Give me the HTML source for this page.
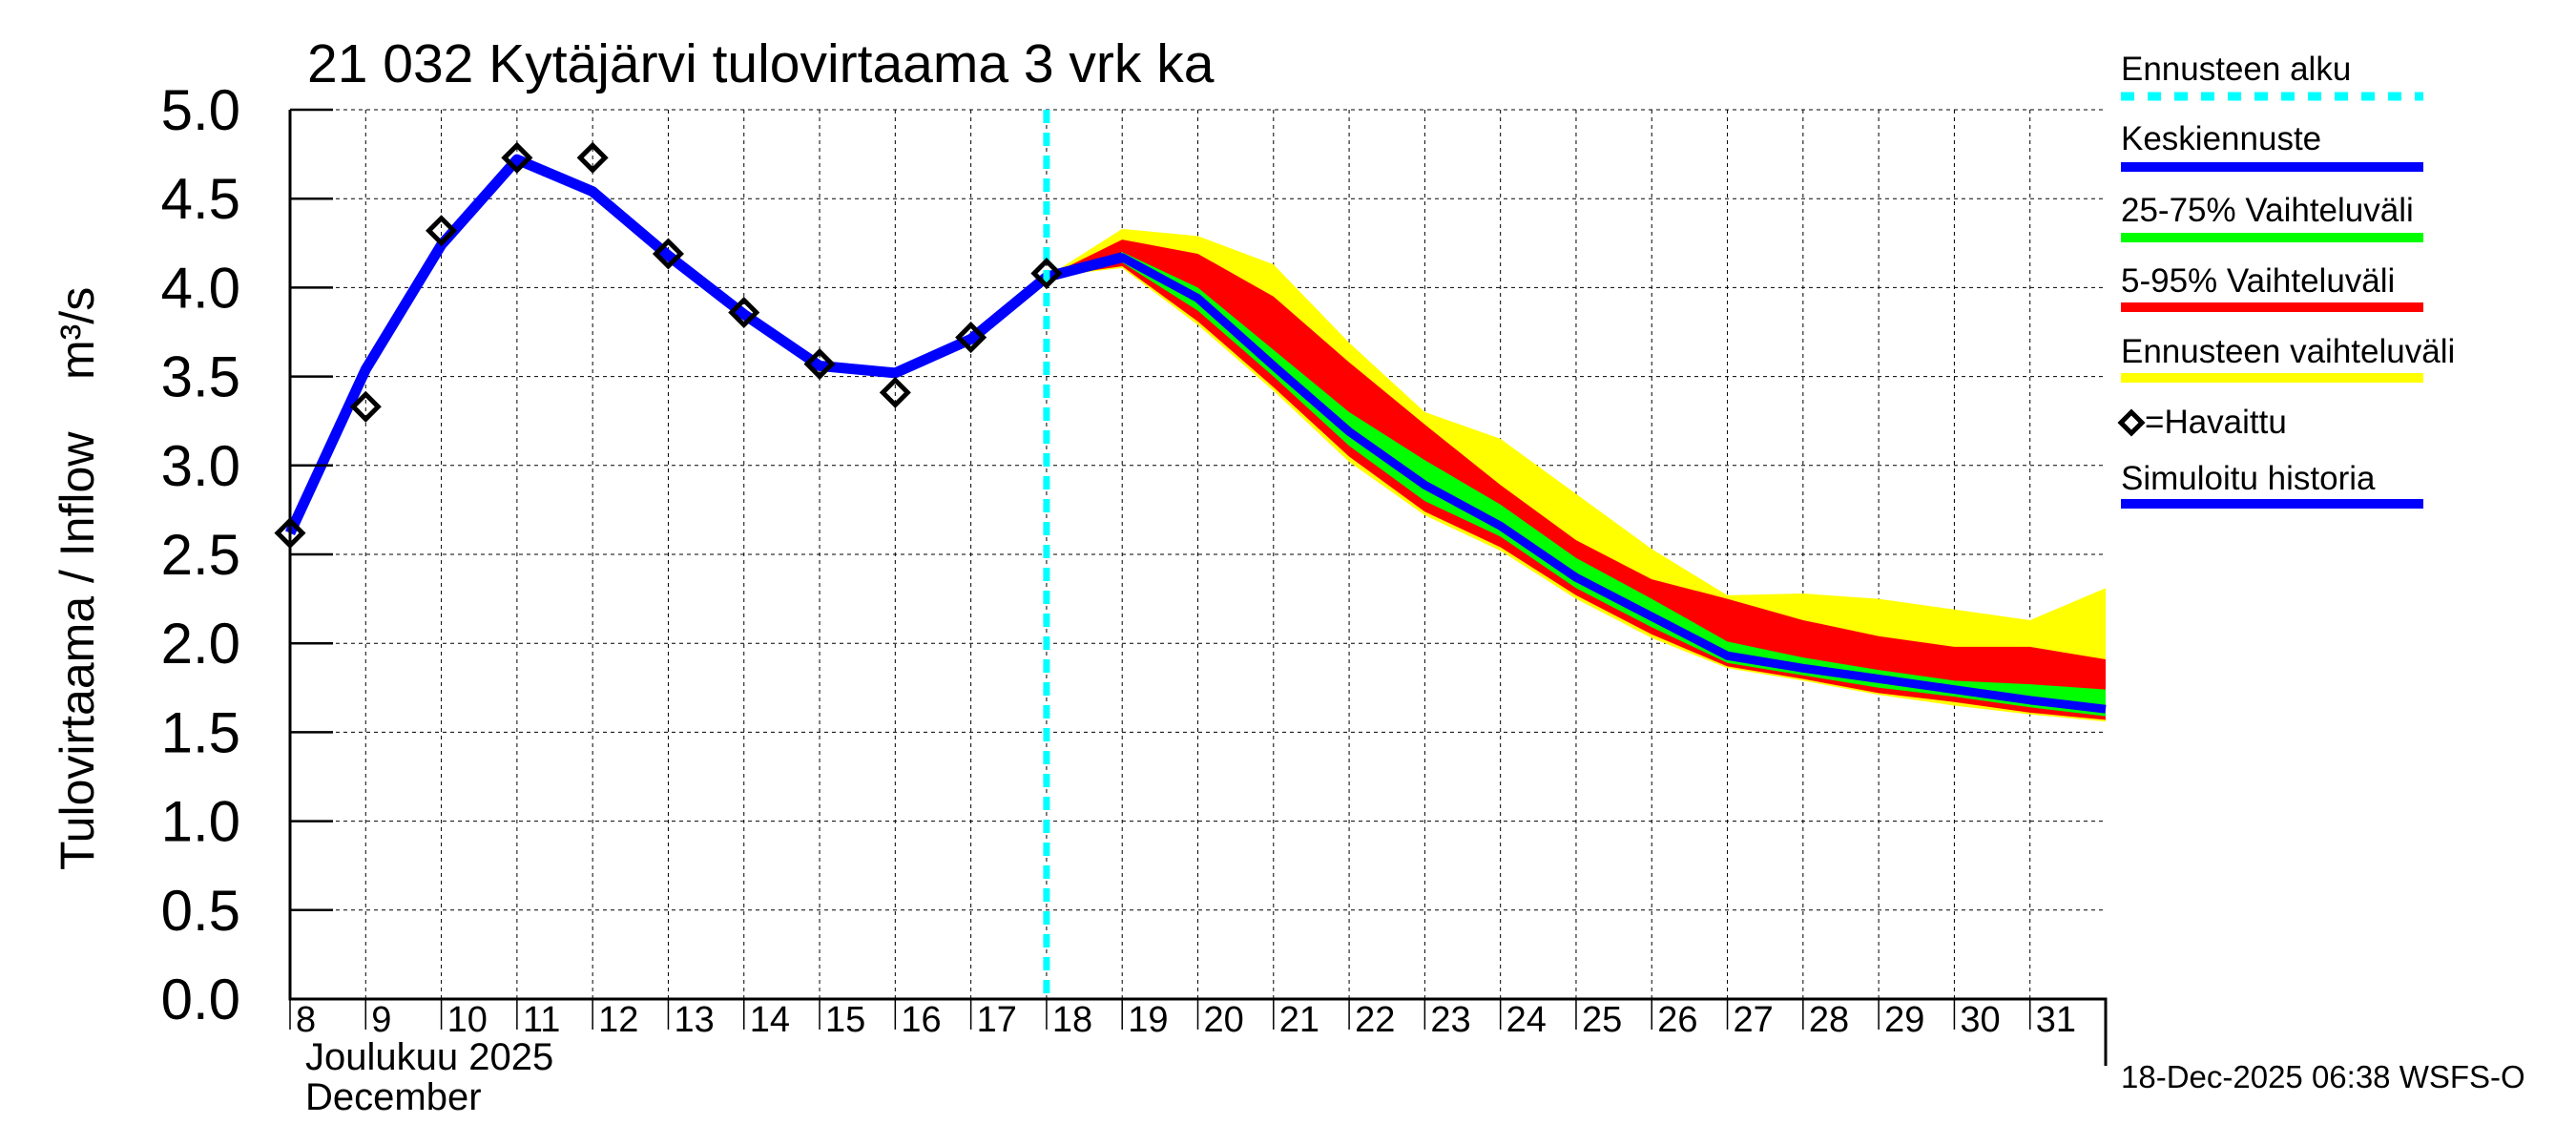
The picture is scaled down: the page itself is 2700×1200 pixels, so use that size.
<!DOCTYPE html>
<html><head><meta charset="utf-8"><style>
html,body{margin:0;padding:0;background:#fff;}
svg{display:block;font-family:"Liberation Sans",sans-serif;}
</style></head><body>
<svg id="c" width="2700" height="1200" viewBox="0 0 2700 1200">
<text x="322" y="86" font-size="57">21 032 Kytäjärvi tulovirtaama 3 vrk ka</text>
<g id="grid"></g>
<g id="bands"></g>
<g id="lines"></g>
<g id="axes"></g>
<text transform="translate(98,912) rotate(-90)" font-size="50">Tulovirtaama / Inflow</text>
<text transform="translate(98,398) rotate(-90)" font-size="50">m³/s</text>
<text x="320" y="1121" font-size="40">Joulukuu  2025</text>
<text x="320" y="1163" font-size="40">December</text>
<text x="2223" y="1140" font-size="33">18-Dec-2025 06:38 WSFS-O</text>
<g>
<text x="2223" y="84" font-size="35">Ennusteen alku</text>
<line x1="2223" y1="101" x2="2540" y2="101" stroke="#00ffff" stroke-width="9" stroke-dasharray="14,14"/>
<text x="2223" y="157" font-size="35">Keskiennuste</text>
<line x1="2223" y1="175" x2="2540" y2="175" stroke="#0000ff" stroke-width="10"/>
<text x="2223" y="232" font-size="35">25-75% Vaihteluväli</text>
<line x1="2223" y1="249" x2="2540" y2="249" stroke="#00ff00" stroke-width="10"/>
<text x="2223" y="306" font-size="35">5-95% Vaihteluväli</text>
<line x1="2223" y1="322" x2="2540" y2="322" stroke="#ff0000" stroke-width="10"/>
<text x="2223" y="380" font-size="35">Ennusteen vaihteluväli</text>
<line x1="2223" y1="396" x2="2540" y2="396" stroke="#ffff00" stroke-width="10"/>
<path d="M2223,443 L2234,432 L2245,443 L2234,454 Z" fill="none" stroke="#000" stroke-width="5"/>
<text x="2248" y="454" font-size="35">=Havaittu</text>
<text x="2223" y="513" font-size="35">Simuloitu historia</text>
<line x1="2223" y1="528" x2="2540" y2="528" stroke="#0000ff" stroke-width="10"/>
</g>
</svg>
<script>
const histDays=[8,9,10,11,12,13,14,15,16,17,18,19];
const histVals=[2.62,3.54,4.24,4.72,4.54,4.18,3.85,3.56,3.52,3.71,4.06,4.17];
const obsDays=[8,9,10,11,12,13,14,15,16,17,18];
const obsVals=[2.62,3.33,4.32,4.73,4.73,4.19,3.86,3.57,3.41,3.72,4.08];
const fcDays=[18,19,20,21,22,23,24,25,26,27,28,29,30,31,32];
const yelHi=[4.06,4.33,4.29,4.13,3.69,3.30,3.15,2.84,2.53,2.27,2.28,2.25,2.19,2.13,2.31];
const redHi=[4.06,4.27,4.19,3.95,3.58,3.23,2.89,2.58,2.36,2.25,2.13,2.04,1.98,1.98,1.91];
const grnHi=[4.06,4.20,4.00,3.65,3.30,3.03,2.78,2.48,2.25,2.01,1.92,1.85,1.79,1.77,1.74];
const median=[4.06,4.17,3.94,3.56,3.19,2.89,2.66,2.37,2.15,1.93,1.86,1.80,1.74,1.68,1.63];
const grnLo=[4.06,4.14,3.87,3.50,3.11,2.80,2.60,2.31,2.09,1.89,1.82,1.75,1.70,1.64,1.59];
const redLo=[4.06,4.12,3.81,3.44,3.05,2.74,2.54,2.27,2.05,1.87,1.80,1.72,1.67,1.61,1.57];
const yelLo=[4.06,4.11,3.79,3.42,3.02,2.72,2.52,2.25,2.03,1.86,1.79,1.71,1.65,1.60,1.56];
const yTicks=["0.0","0.5","1.0","1.5","2.0","2.5","3.0","3.5","4.0","4.5","5.0"];
const xTicks=[8,9,10,11,12,13,14,15,16,17,18,19,20,21,22,23,24,25,26,27,28,29,30,31];
const forecastStart=18;

const NS="http://www.w3.org/2000/svg";
const X0=304,X1=2207,Y0=1047,Y1=115,D0=8,D1=32,V1=5;
const xs=d=>X0+(d-D0)*(X1-X0)/(D1-D0);
const ys=v=>Y0-v*(Y0-Y1)/V1;
function mk(tag,attrs,parent){const e=document.createElementNS(NS,tag);for(const k in attrs)e.setAttribute(k,attrs[k]);parent.appendChild(e);return e;}
const grid=document.getElementById('grid'),bands=document.getElementById('bands'),lines=document.getElementById('lines'),axes=document.getElementById('axes');

xTicks.forEach(d=>{
  const l=mk('line',{x1:xs(d),x2:xs(d),y1:Y1,y2:Y0,stroke:'#000','stroke-width':1,'stroke-dasharray':'4,4'},grid);
  
  
  const t=mk('line',{x1:xs(d),x2:xs(d),y1:Y0,y2:1079,stroke:'#000','stroke-width':1.5},axes);
  
  
  const tx=mk('text',{x:xs(d)+6,y:1081,'font-size':38},axes);
  tx.textContent=d;
  
  
});
yTicks.forEach(s=>{
  const v=parseFloat(s);
  const l=mk('line',{x1:X0,x2:X1,y1:ys(v),y2:ys(v),stroke:'#000','stroke-width':1,'stroke-dasharray':'4,4'},grid);
  
  
  const t=mk('line',{x1:X0,x2:X0+45,y1:ys(v),y2:ys(v),stroke:'#000','stroke-width':2.5},axes);
  
  
  const tx=mk('text',{x:252,y:ys(v)+21,'font-size':60,'text-anchor':'end'},axes);
  tx.textContent=s;
  
  
});
function band(hi,lo,color,name){
  let p=fcDays.map((d,i)=>xs(d)+','+ys(hi[i])).join(' ')+' '+fcDays.map((d,i)=>xs(d)+','+ys(lo[i])).reverse().join(' ');
  const e=mk('polygon',{points:p,fill:color},bands);
  
  
}
band(yelHi,yelLo,'#ffff00','band-full-range');
band(redHi,redLo,'#ff0000','band-5-95');
band(grnHi,grnLo,'#00ff00','band-25-75');
const med=mk('polyline',{points:fcDays.map((d,i)=>xs(d)+','+ys(median[i])).join(' '),fill:'none',stroke:'#0000ff','stroke-width':9,'stroke-linejoin':'round'},lines);


const hist=mk('polyline',{points:histDays.map((d,i)=>xs(d)+','+ys(histVals[i])).join(' '),fill:'none',stroke:'#0000ff','stroke-width':11,'stroke-linejoin':'round'},lines);


const fs=mk('line',{x1:xs(forecastStart),x2:xs(forecastStart),y1:Y1,y2:Y0,stroke:'#00ffff','stroke-width':7,'stroke-dasharray':'14,10'},lines);


obsDays.forEach((d,i)=>{
  const x=xs(d),y=ys(obsVals[i]),r=13;
  const m=mk('path',{d:`M${x-r},${y} L${x},${y-r} L${x+r},${y} L${x},${y+r} Z`,fill:'none',stroke:'#000','stroke-width':5},lines);
  
  
});
const ax=mk('path',{d:`M${X0},${Y1} L${X0},${Y0} L${X1},${Y0} L${X1},1117`,fill:'none',stroke:'#000','stroke-width':3},axes);


</script>
</body></html>
